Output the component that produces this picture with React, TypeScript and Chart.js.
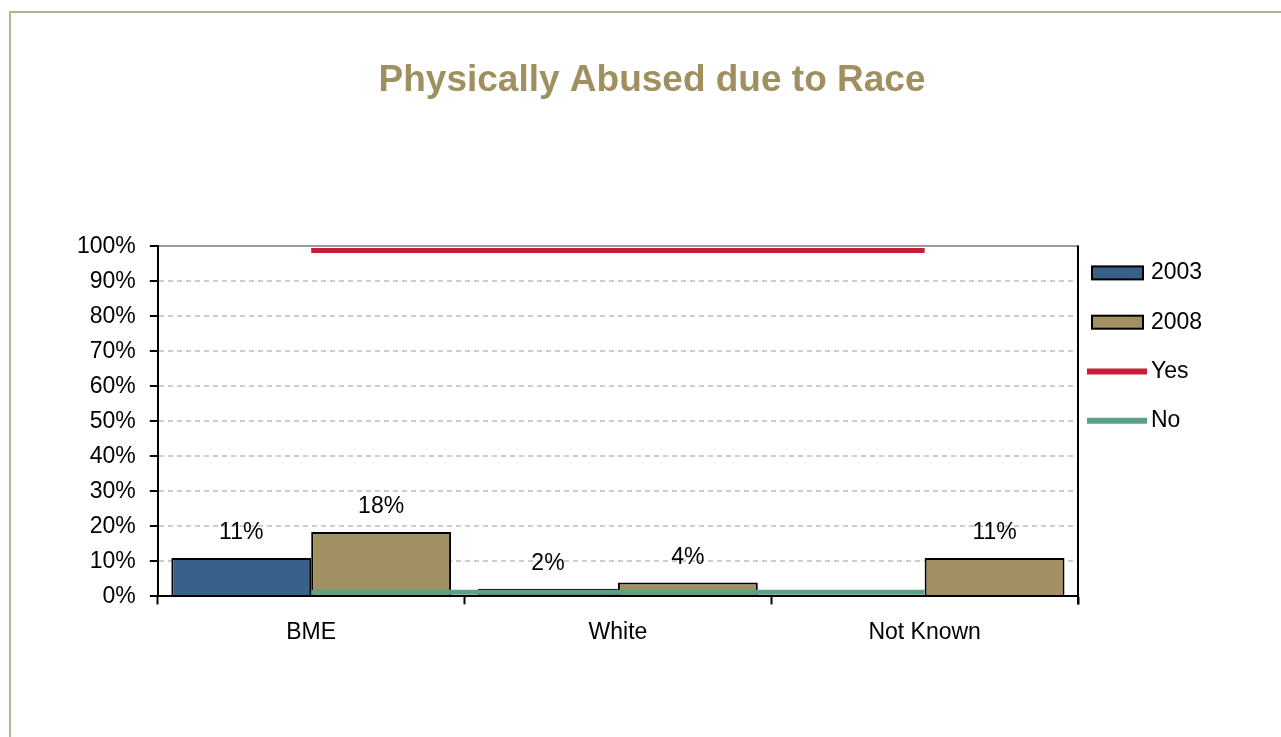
import React, { useEffect, useRef } from "react";
import { Chart, registerables } from "chart.js";

Chart.register(...registerables);

const FONT = '"Liberation Sans", Arial, Helvetica, sans-serif';

const chartTitle = "Physically Abused due to Race";
const categories = ["BME", "White", "Not Known"];
const seriesLabels = ["2003", "2008", "Yes", "No"];
const values2003: (number | null)[] = [11, 2.2, null];
const values2008: (number | null)[] = [18.4, 4, 11];
const yesValues = [98.8, 98.8, 98.8];
const noValues = [1.2, 1.2, 1.2];
const yMin = 0;
const yMax = 100;
const yStep = 10;

const COLORS = {
  c2003: "#386089",
  c2008: "#A09062",
  yes: "#C41E3A",
  no: "#5AA283",
  title: "#A08F5F",
  frame: "#BDB18B",
  text: "#000000",
};

const barLabels = {
  id: "barLabels",
  afterDatasetsDraw(chart: any) {
    const { ctx } = chart;
    ctx.save();
    ctx.font = `23px ${FONT}`;
    ctx.fillStyle = COLORS.text;
    ctx.textAlign = "center";
    ctx.textBaseline = "middle";
    chart.data.datasets.forEach((ds: any, i: number) => {
      if (ds.type !== "bar") return;
      const meta = chart.getDatasetMeta(i);
      meta.data.forEach((el: any, j: number) => {
        const v = ds.data[j];
        if (v === null || v === undefined) return;
        ctx.fillText(`${Math.round(v)}%`, el.x, el.y - 25);
      });
    });
    ctx.restore();
  },
};

const sideLegend = {
  id: "sideLegend",
  afterDraw(chart: any) {
    const { ctx, chartArea } = chart;
    const x0 = chartArea.right;
    ctx.save();
    // right frame line of the plot
    ctx.strokeStyle = "#000";
    ctx.lineWidth = 2;
    ctx.beginPath();
    ctx.moveTo(x0, chartArea.top - 1);
    ctx.lineTo(x0, chartArea.bottom + 8);
    ctx.stroke();

    ctx.font = `23px ${FONT}`;
    ctx.textBaseline = "middle";
    ctx.textAlign = "left";
    chart.data.datasets.forEach((ds: any, i: number) => {
      const cy = chartArea.top + 26.5 + i * 49.3;
      if (ds.type === "line") {
        ctx.strokeStyle = ds.borderColor;
        ctx.lineWidth = 6;
        ctx.beginPath();
        ctx.moveTo(x0 + 9, cy);
        ctx.lineTo(x0 + 69, cy);
        ctx.stroke();
      } else {
        ctx.fillStyle = ds.backgroundColor;
        ctx.fillRect(x0 + 14, cy - 6.5, 51, 13);
        ctx.strokeStyle = "#000";
        ctx.lineWidth = 2;
        ctx.strokeRect(x0 + 14, cy - 6.5, 51, 13);
      }
      ctx.fillStyle = COLORS.text;
      ctx.fillText(ds.label, x0 + 73, cy);
    });
    ctx.restore();
  },
};

export default function App() {
  const canvasRef = useRef<HTMLCanvasElement | null>(null);

  useEffect(() => {
    if (!canvasRef.current) return;
    Chart.defaults.font.family = FONT;
    const chart = new Chart(canvasRef.current, {
      type: "bar",
      data: {
        labels: categories,
        datasets: [
          {
            type: "bar",
            label: seriesLabels[0],
            data: values2003,
            backgroundColor: COLORS.c2003,
            borderColor: "#000",
            borderWidth: 2,
            order: 2,
            yAxisID: "y",
          },
          {
            type: "bar",
            label: seriesLabels[1],
            data: values2008,
            backgroundColor: COLORS.c2008,
            borderColor: "#000",
            borderWidth: 2,
            order: 2,
            yAxisID: "y",
          },
          {
            type: "line",
            label: seriesLabels[2],
            data: yesValues,
            borderColor: COLORS.yes,
            backgroundColor: COLORS.yes,
            borderWidth: 5,
            pointRadius: 0,
            fill: false,
            order: 1,
            yAxisID: "y",
          },
          {
            type: "line",
            label: seriesLabels[3],
            data: noValues,
            borderColor: COLORS.no,
            backgroundColor: COLORS.no,
            borderWidth: 5,
            pointRadius: 0,
            fill: false,
            order: 1,
            yAxisID: "y",
          },
        ] as any,
      },
      options: {
        animation: false,
        responsive: true,
        maintainAspectRatio: false,
        layout: { padding: { left: 63, right: 40, top: 0, bottom: 77 } },
        datasets: {
          bar: { categoryPercentage: 0.912, barPercentage: 1 },
        } as any,
        plugins: {
          legend: { display: false },
          tooltip: { enabled: false },
          title: {
            display: true,
            text: chartTitle,
            color: COLORS.title,
            font: { family: FONT, size: 37, weight: "bold" },
            padding: { top: 59, bottom: 143 },
          },
        },
        scales: {
          x: {
            type: "category",
            offset: true,
            grid: {
              display: true,
              offset: true,
              drawOnChartArea: false,
              drawTicks: true,
              tickLength: 8,
              tickColor: "#000",
              tickWidth: 2,
            },
            border: { display: true, color: "#000", width: 2, z: 1 },
            ticks: { color: COLORS.text, font: { size: 23 }, padding: 14 },
          },
          y: {
            type: "linear",
            position: "left",
            min: yMin,
            max: yMax,
            ticks: {
              stepSize: yStep,
              color: COLORS.text,
              font: { size: 23 },
              padding: 14,
              callback: (v: any) => `${v}%`,
            },
            grid: {
              color: (c: any) => (c.tick && c.tick.value === yMax ? "#999999" : "#CCCCCC"),
              lineWidth: 2,
              tickColor: "#000",
              tickWidth: 2,
              tickLength: 8,
              tickBorderDash: [],
            },
            border: {
              display: true,
              color: "#000",
              width: 2,
              z: 1,
              dash: (c: any) => (c.tick && c.tick.value === yMax ? [] : [5, 4]),
            } as any,
          },
          yRight: {
            type: "linear",
            position: "right",
            display: true,
            grid: { display: false, drawTicks: false },
            border: { display: false },
            ticks: { display: false },
            afterFit: (s: any) => {
              s.width = 163;
            },
          } as any,
        },
      },
      plugins: [barLabels, sideLegend],
    });
    return () => chart.destroy();
  }, []);

  return (
    <>
      <div
        style={{
          position: "fixed",
          left: 9,
          top: 11,
          right: -20,
          bottom: -20,
          borderTop: `2px solid ${COLORS.frame}`,
          borderLeft: `2px solid ${COLORS.frame}`,
          boxSizing: "border-box",
        }}
      />
      <div style={{ position: "fixed", left: 0, top: 0, width: "100vw", height: "100vh" }}>
        <canvas ref={canvasRef} />
      </div>
    </>
  );
}
